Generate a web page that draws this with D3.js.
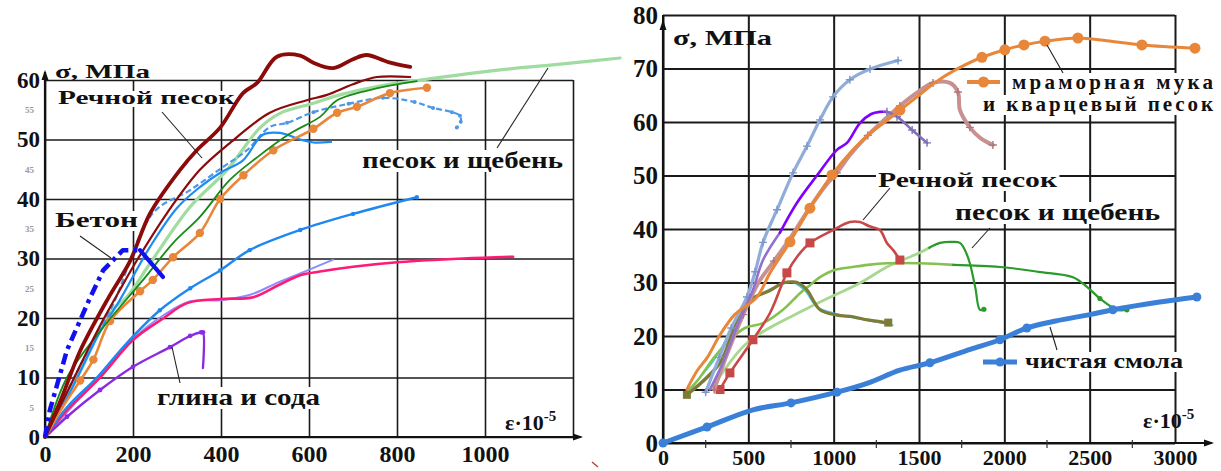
<!DOCTYPE html>
<html><head><meta charset="utf-8">
<script src="https://cdn.jsdelivr.net/npm/d3@7"></script>
<style>
body{margin:0;background:#fff}
svg{display:block}
text{font-family:"Liberation Serif","Times New Roman",serif;font-weight:bold;fill:#111}
</style>
</head><body>
<svg id="c" width="1221" height="471"></svg>
<script>
// ---------------- DATA (ε·10^-5 , σ MPa) ----------------
// Left panel ticks
const leftXTicks = [0,200,400,600,800,1000];
const leftXGrid = [0,200,400,600,800,1000,1200];
const leftYTicks = [0,10,20,30,40,50,60];
const leftYMinor = [5,15,25,35,45,55];
// Right panel ticks
const rightXTicks = [0,500,1000,1500,2000,2500,3000];
const rightXMinor = [250,750,1250,1750,2250,2750];
const rightYTicks = [0,10,20,30,40,50,60,70,80];

// Left panel series
const rechnoyThick = [[0,0],[40,7],[80,14.5],[145,23.5],[193,29.5],[239,37.6],[307,44.9],[345,48.2],[398,52],[450,57.8],[482,59.5],[527,63.9],[580,64.1],[610,62.9],[655,62],[700,63.5],[731,64.2],[780,63],[830,62.2]];
const rechnoyThin = [[0,0],[60,9],[120,18],[170,24.7],[209,29.7],[277,37.6],[352,44.9],[420,49.4],[511,54.5],[595,56.6],[641,57.5],[700,59.3],[754,60.5],[830,60.5]];
const sandGravelLong = [[0,0],[80,11],[148,21],[186,23.5],[239,29.2],[330,38.7],[414,44.9],[489,52],[534,54.4],[610,56.1],[670,57.5],[760,59],[845,59.9],[1034,61.7],[1148,62.5],[1307,63.7]];
const greenThin = [[0,0],[50,10],[133,18.5],[223,26.4],[291,32.6],[352,37],[420,43.2],[482,47],[557,51],[625,53.8],[664,56.6],[761,58.7],[845,59.8]];
const orangeLeft = [[0,0],[40,5],[80,9.5],[110,13],[148,19.5],[216,24.5],[245,26.4],[291,30.2],[352,34.3],[398,40],[451,44],[519,48.2],[610,51.8],[664,54.5],[709,55.5],[784,57.8],[868,58.7]];
const blueSolid = [[0,0],[60,8],[120,17],[170,23],[239,32],[300,38.5],[352,42],[400,44.5],[450,46.5],[495,50.8],[534,51.1],[580,50],[610,49.5],[650,49.6]];
const blueDashed = [[0,0],[80,12],[153,22],[245,37.6],[330,41.5],[405,45.4],[459,48.2],[511,52.1],[550,52.8],[610,54.6],[690,56],[768,57],[840,56.3],[882,55.3],[925,54.6],[943,54],[945,53],[936,52]];
const blueLower = [[0,0],[50,5],[118,10],[186,15.8],[261,21.3],[330,25],[398,28],[465,31.4],[580,34.8],[700,37.5],[845,40.3]];
const pinkLeft = [[0,0],[50,4.5],[125,10],[200,16.3],[270,20],[323,22.5],[400,23.2],[473,23.5],[530,25.5],[580,27.2],[625,27.8],[700,28.6],[807,29.4],[950,30],[1064,30.3]];
const lavenderLeft = [[0,0],[60,5],[130,10.5],[200,16.5],[270,20.5],[330,22.8],[400,23],[470,24],[530,26],[590,27.8],[655,29.8]];
const clayPurple = [[0,0],[11,0.7],[50,3.4],[125,7.9],[200,11.8],[284,15.1],[330,17],[355,17.6],[359,17.6],[359,11.6]];
const betonRise = [[0,0],[11,4.5],[50,14.6],[100,23],[132,28],[177,31.4],[215,31.4]];
const betonFall = [[216,31.4],[268,26.9]];

// Right panel series
const marbleQuartz = [[140,10],[200,13.5],[260,16],[330,20],[420,24],[551,27.3],[627,31.8],[744,37.6],[861,43.9],[990,50.1],[1113,54.8],[1200,57.5],[1300,60],[1388,62.2],[1500,65],[1600,67.5],[1700,69.5],[1869,72.1],[2003,73.5],[2115,74.4],[2238,75.1],[2431,75.7],[2600,75.2],[2806,74.4],[3117,73.8]];
const marbleQuartzDots = [[744,37.6],[861,43.9],[990,50.1],[1388,62.2],[1869,72.1],[2003,73.5],[2115,74.4],[2238,75.1],[2431,75.7],[2806,74.4],[3117,73.8]];
const steelBlueR = [[250,9.5],[330,16],[400,21.5],[492,27.3],[540,32],[586,37.5],[668,43.6],[762,50.5],[844,55.5],[920,60.4],[996,64.7],[1095,67.9],[1213,69.9],[1377,71.5]];
const purpleLow = [[275,10],[351,15],[433,21.7],[527,28.6],[586,34.2],[685,39.3]];
const purpleHigh = [[685,39.3],[785,44.9],[902,50],[1019,54.8],[1078,56.1],[1154,59.8],[1220,61.5],[1271,61.9],[1312,61.9]];
const purpleDesc = [[1312,61.9],[1371,61],[1460,58.5],[1547,56.1]];
const rosyR = [[300,10],[380,17],[470,24],[560,30],[650,34],[750,38.5],[860,44],[950,48],[1019,50.5],[1100,54],[1200,57.5],[1300,60.5],[1388,63],[1480,65.3],[1582,67.3],[1681,67.3],[1728,65.6],[1740,62.2],[1798,59],[1860,57],[1933,55.7]];
const brickR = [[334,10],[392,13.1],[527,19.3],[627,24.3],[726,31.8],[790,35],[861,37.4],[996,39.8],[1095,41.3],[1154,41.3],[1210,40.5],[1271,39.8],[1312,37.4],[1350,36],[1388,34.2]];
const brickSquares = [[334,10],[392,13.1],[527,19.3],[726,31.8],[861,37.4],[1388,34.2]];
const paleGreenR = [[293,10.5],[492,18.7],[861,25.4],[1154,29.9],[1312,32.9],[1500,35.5],[1560,36.5]];
const greenPeakR = [[1560,36.5],[1623,37.4],[1700,37.6],[1740,37.4],[1770,36],[1798,33.6],[1830,29],[1857,24.9],[1880,25]];
const yellowGreenR = [[140,9.3],[217,12.3],[300,16],[392,19.3],[480,21.5],[586,22.4],[703,24.9],[803,28],[861,29.5],[920,31],[1000,32.3],[1113,32.9],[1200,33.3],[1312,33.6],[1506,33.6],[1700,33.3]];
const darkGreenTailR = [[1700,33.3],[1974,32.9],[2200,32],[2402,31],[2484,29.2],[2560,27],[2660,24.9],[2718,24.9]];
const oliveR = [[140,9],[334,15],[433,23],[510,26.7],[627,28.5],[703,29.9],[762,30.1],[800,29.8],[844,28.6],[920,24.9],[1019,23.9],[1113,23.6],[1200,23],[1289,22.6],[1320,22.5]];
const cyanR = [[150,10],[300,15.5],[433,23],[560,27.5],[680,29.5],[760,30],[830,28.5],[900,25.5],[980,24.5],[1100,23.5],[1250,22.6],[1347,22]];
const pureResin = [[0,0],[258,3],[527,6.2],[750,7.5],[1019,9.5],[1200,11.2],[1388,13.6],[1564,15],[1800,17.5],[1974,19.3],[2132,21.5],[2300,22.8],[2500,24],[2636,24.9],[2900,26.3],[3128,27.3]];
const pureResinDots = [[0,0],[258,3],[750,7.5],[1019,9.5],[1564,15],[1974,19.3],[2132,21.5],[2636,24.9],[3128,27.3]];

// ---------------- DRAWING ----------------
const svg = d3.select("#c");
const gGrid = svg.append("g"), gBg = svg.append("g"), gCurves = svg.append("g"), gText = svg.append("g");

const xL = d3.scaleLinear().domain([0,1200]).range([45,573]);
const yL = d3.scaleLinear().domain([0,60]).range([437,80]);
const xR = d3.scaleLinear().domain([0,3000]).range([663,1175]);
const yR = d3.scaleLinear().domain([0,80]).range([443,15]);

function grid(x, y, xt, yt, sw) {
  const h = y.range()[0]-y.range()[1], w = x.range()[1]-x.range()[0];
  gGrid.append("g").attr("transform",`translate(0,${y.range()[0]})`)
    .call(d3.axisBottom(x).tickValues(xt).tickSize(-h).tickFormat(""))
    .call(g=>g.select(".domain").remove())
    .selectAll("line").attr("stroke","#1a1a1a").attr("stroke-width",sw);
  gGrid.append("g").attr("transform",`translate(${x.range()[0]},0)`)
    .call(d3.axisLeft(y).tickValues(yt).tickSize(-w).tickFormat(""))
    .call(g=>g.select(".domain").remove())
    .selectAll("line").attr("stroke","#1a1a1a").attr("stroke-width",sw);
}
grid(xL, yL, leftXGrid, leftYTicks, 1.6);
grid(xR, yR, rightXTicks, rightYTicks, 2);

// axes lines with arrows
function arrowAxis(x1,y1,x2,y2,dir){
  gGrid.append("line").attr("x1",x1).attr("y1",y1).attr("x2",x2).attr("y2",y2).attr("stroke","#111").attr("stroke-width",2.2);
  const p = dir==="up" ? `M${x2},${y2-2} L${x2-3.5},${y2+8} L${x2+3.5},${y2+8}Z` : `M${x2+2},${y2} L${x2-8},${y2-3.5} L${x2-8},${y2+3.5}Z`;
  gGrid.append("path").attr("d",p).attr("fill","#111");
}
arrowAxis(xL(0), yL(0), xL(0), 72, "up");
arrowAxis(xL(0), yL(0), 581, yL(0), "right");
arrowAxis(xR(0), yR(0), xR(0), 22, "up");
gGrid.append("line").attr("x1",xR(0)).attr("x2",xR(0)).attr("y1",22).attr("y2",yR(80)).attr("stroke","#111").attr("stroke-width",2);
arrowAxis(xR(0), yR(0), 1212, yR(0), "right");
gGrid.selectAll(null).data(rightXMinor).join("line")
  .attr("x1",d=>xR(d)).attr("x2",d=>xR(d)).attr("y1",yR(0)-3).attr("y2",yR(0)+5)
  .attr("stroke","#333").attr("stroke-width",1.2);

// tick labels
const fmt = d3.format("d");
function tickLabels(axis, transform, size, fill){
  const g = gText.append("g").attr("transform",transform).call(axis.tickFormat(fmt));
  g.attr("font-size",null).attr("font-family",null);
  g.select(".domain").remove();
  g.selectAll("line").remove();
  g.selectAll("text").attr("font-size",size).style("fill",fill||"#111");
  return g;
}
tickLabels(d3.axisBottom(xL).tickValues(leftXTicks).tickSize(0).tickPadding(8), `translate(0,${yL(0)})`, 24);
tickLabels(d3.axisLeft(yL).tickValues(leftYTicks).tickSize(0).tickPadding(5), `translate(${xL(0)},0)`, 23);
tickLabels(d3.axisLeft(yL).tickValues(leftYMinor).tickSize(0).tickPadding(11), `translate(${xL(0)},0)`, 9, "#999");
tickLabels(d3.axisBottom(xR).tickValues(rightXTicks).tickSize(0).tickPadding(6), `translate(0,${yR(0)})`, 22);
tickLabels(d3.axisLeft(yR).tickValues(rightYTicks).tickSize(0).tickPadding(5), `translate(${xR(0)},0)`, 25);

// curves
const smooth = d3.curveCatmullRom.alpha(0.5);
function curve(xs, ys, data, color, width, dash, lin){
  gCurves.append("path").datum(data)
    .attr("d", d3.line().x(d=>xs(d[0])).y(d=>ys(d[1])).curve(lin ? d3.curveLinear : smooth))
    .attr("fill","none").attr("stroke",color).attr("stroke-width",width)
    .attr("stroke-linejoin","round").attr("stroke-linecap",dash ? "butt" : "round")
    .attr("stroke-dasharray",dash||null);
}
function dots(xs, ys, data, color, r){
  gCurves.append("g").selectAll("circle").data(data).join("circle")
    .attr("cx",d=>xs(d[0])).attr("cy",d=>ys(d[1])).attr("r",r).attr("fill",color);
}
function squares(xs, ys, data, color, s){
  gCurves.append("g").selectAll("rect").data(data).join("rect")
    .attr("x",d=>xs(d[0])-s/2).attr("y",d=>ys(d[1])-s/2).attr("width",s).attr("height",s).attr("fill",color);
}
function pluses(xs, ys, data, color, s, w){
  gCurves.append("g").selectAll("path").data(data).join("path")
    .attr("d",d=>{const x=xs(d[0]),y=ys(d[1]);return `M${x-s},${y}H${x+s}M${x},${y-s}V${y+s}`;})
    .attr("stroke",color).attr("stroke-width",w||1.2);
}

// left panel
curve(xL,yL,lavenderLeft,"#8c8cff",2);
curve(xL,yL,pinkLeft,"#ff1a75",2.6);
curve(xL,yL,clayPurple,"#8a2be2",2.4);
dots(xL,yL,clayPurple.slice(2,9),"#8a2be2",2.4);
curve(xL,yL,blueLower,"#1e88f0",2.4);
dots(xL,yL,blueLower.slice(4,11),"#1e88f0",2.2);
curve(xL,yL,sandGravelLong,"#9fdc9f",3.2);
curve(xL,yL,blueDashed,"#4f98e6",2.2,"6,3");
dots(xL,yL,blueDashed.slice(8),"#4f98e6",2);
curve(xL,yL,blueSolid,"#1e8cf5",2.2);
curve(xL,yL,orangeLeft,"#e8873a",2.6);
dots(xL,yL,orangeLeft.slice(2),"#e8873a",4.2);
curve(xL,yL,greenThin,"#178a17",1.8);
curve(xL,yL,rechnoyThin,"#8b0a0a",2.2);
curve(xL,yL,rechnoyThick,"#8b0a0a",3.8);
curve(xL,yL,betonRise,"#1010f0",4.5,"11,5,4,5",true);
curve(xL,yL,betonFall,"#1010f0",4.2,null,true);

// right panel
curve(xR,yR,cyanR,"#3cc8e6",1.4);
curve(xR,yR,paleGreenR,"#a8d890",2.8);
curve(xR,yR,greenPeakR,"#2a9a2a",2.2);
curve(xR,yR,yellowGreenR,"#86c050",2.6);
curve(xR,yR,darkGreenTailR,"#2a9a2a",2.2);
dots(xR,yR,[darkGreenTailR[5],darkGreenTailR[7],greenPeakR[8]],"#2a9a2a",2.6);
curve(xR,yR,oliveR,"#7c7c36",3.2);
squares(xR,yR,[oliveR[0],oliveR[14]],"#7c7c36",8);
curve(xR,yR,brickR,"#c84848",2.6);
squares(xR,yR,brickSquares,"#c84848",9);
curve(xR,yR,rosyR,"#c89090",4);
pluses(xR,yR,rosyR.filter((d,i)=>i%2===0),"#b07878",4,1.4);
curve(xR,yR,steelBlueR,"#90acd8",3.2);
pluses(xR,yR,steelBlueR,"#7d98c8",4,1.4);
curve(xR,yR,purpleLow,"#9070d0",2.6);
curve(xR,yR,purpleHigh,"#8000ff",2.6);
curve(xR,yR,purpleDesc,"#8070b8",2.6);
pluses(xR,yR,purpleDesc,"#8070b8",4,1.4);
curve(xR,yR,marbleQuartz,"#e8873a",3);
dots(xR,yR,marbleQuartzDots,"#e8873a",5.5);
curve(xR,yR,pureResin,"#3a80d8",5);
dots(xR,yR,pureResinDots,"#3a80d8",4.5);

// legend-like markers
function legendLine(x1,x2,y,color,w,r){
  gCurves.append("line").attr("x1",x1).attr("x2",x2).attr("y1",y).attr("y2",y).attr("stroke",color).attr("stroke-width",w);
  gCurves.append("circle").attr("cx",(x1+x2)/2).attr("cy",y).attr("r",r).attr("fill",color);
}
legendLine(967,1000,82,"#e8873a",4,5.5);
legendLine(983,1017,362,"#3a80d8",5,4.5);

// pointer lines
const pointers = [[162,112,202,158],[80,236,111,258],[497,148,548,68],[180,383,172,347],
                  [890,188,863,220],[1047,45,1063,73],[990,228,972,248],[1050,327,1057,350]];
gText.selectAll(null).data(pointers).join("line")
  .attr("x1",d=>d[0]).attr("y1",d=>d[1]).attr("x2",d=>d[2]).attr("y2",d=>d[3])
  .attr("stroke","#222").attr("stroke-width",1.1);
gText.append("line").attr("x1",592).attr("y1",462).attr("x2",598).attr("y2",467).attr("stroke","#c04040").attr("stroke-width",1.5);

// text labels
function label(x,y,str,size,len,adjust,bg){
  const t = gText.append("text").attr("x",x).attr("y",y).attr("font-size",size).text(str);
  if(len) t.attr("textLength",len).attr("lengthAdjust",adjust||"spacingAndGlyphs");
  if(bg!==false){
    const b = t.node().getBBox();
    gBg.append("rect").attr("x",b.x-2).attr("y",b.y+3).attr("width",b.width+4).attr("height",b.height-4).attr("fill","#fff");
  }
  return t;
}
label(55,78,"σ, МПа",19,95,null,false);
label(58,104,"Речной песок",18,177);
label(55,227,"Бетон",21,83);
label(362,168,"песок и щебень",24,201);
label(157,405,"глина и сода",24,163);
label(673,45,"σ, МПа",21,99,null,false);
label(1012,89,"мраморная мука",21,201,"spacing");
label(983,111,"и кварцевый песок",21,230,"spacing");
label(878,187,"Речной песок",22,179);
label(955,220,"песок и щебень",24,205);
label(1025,368,"чистая смола",21,158);

function epsLabel(x,y){
  const t = gText.append("text").attr("x",x).attr("y",y).attr("font-size",22);
  t.append("tspan").text("ε·10");
  t.append("tspan").attr("font-size",15).attr("dy",-9).text("-5");
}
epsLabel(505,430);
epsLabel(1143,428);
</script>
</body></html>
